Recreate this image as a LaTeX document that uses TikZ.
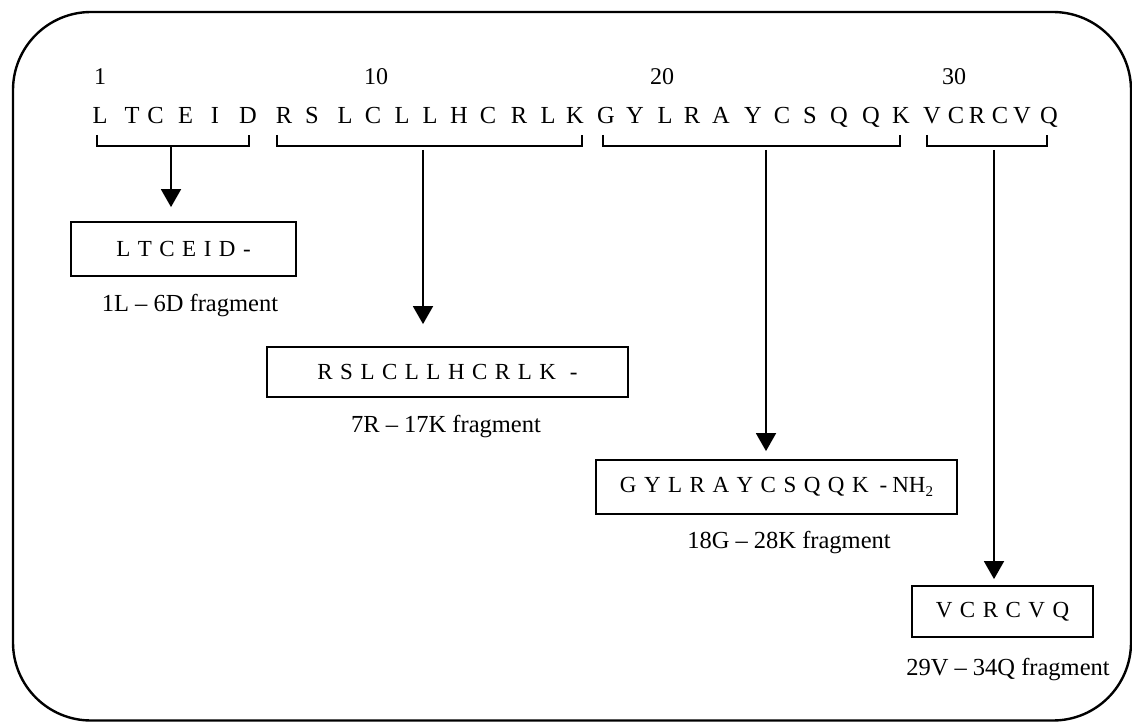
\documentclass[tikz,border=0pt]{standalone}
\usepackage{fontspec}
\setmainfont{Liberation Serif}
\usetikzlibrary{arrows.meta}
\newcommand\lsp{\hspace{7.5pt}}
\begin{document}
\begin{tikzpicture}[x=1pt,y=-1pt,
  seq/.style={font=\fontsize{24.5}{28}\selectfont, anchor=base, inner sep=0pt},
  num/.style={font=\fontsize{24}{28}\selectfont, anchor=base, inner sep=0pt},
  frag/.style={draw, line width=1.8pt, inner sep=0pt, font=\fontsize{23}{26}\selectfont},
  lab/.style={font=\fontsize{24.5}{28}\selectfont, anchor=base, inner sep=0pt},
  brk/.style={line width=1.8pt},
  arr/.style={line width=1.8pt, -{Triangle[width=20pt,length=18pt]}},
  frame/.style={line width=2.4pt, rounded corners=78pt}
]
\useasboundingbox (0,0) rectangle (1132,722);
\draw[frame] (13,12) rectangle (1131,720.5);

% position numbers
\node[num] (n1)  at (100,85) {1};
\node[num] (n10) at (376,85) {10};
\node[num] (n20) at (662,85) {20};
\node[num] (n30) at (954,85) {30};

% sequence
\foreach \l/\x [count=\i] in {L/100,T/132,C/155.5,E/185.5,I/215,D/248,R/284,S/312,L/345,C/373,L/402,L/430,H/459,C/488,R/519,L/548,K/575,G/606,Y/635,L/665,R/692,A/721,Y/753,C/782,S/810,Q/839,Q/871,K/901,V/932,C/956,R/977,C/1000,V/1022,Q/1049}
  \node[seq] (s\i) at (\x,124) {\l};

% brackets
\draw[brk] (97,135) -- (97,146) -- (249,146) -- (249,135);
\draw[brk] (277,135) -- (277,146) -- (582,146) -- (582,135);
\draw[brk] (603,135) -- (603,146) -- (900,146) -- (900,135);
\draw[brk] (927,135) -- (927,146) -- (1047,146) -- (1047,135);

% fragment boxes
\node[frag, minimum width=225pt, minimum height=54pt] (bx1) at (183.5,249)
  {L\lsp T\lsp C\lsp E\lsp I\lsp D\lsp -};
\node[frag, minimum width=361pt, minimum height=50pt] (bx2) at (447.5,372)
  {R\lsp S\lsp L\lsp C\lsp L\lsp L\lsp H\lsp C\lsp R\lsp L\lsp K\hspace{14pt}-};
\node[frag, minimum width=361pt, minimum height=54pt] (bx3) at (776.5,487)
  {G\lsp Y\lsp L\lsp R\lsp A\lsp Y\lsp C\lsp S\lsp Q\lsp Q\lsp K\hspace{11pt}-\hspace{5pt}NH\raisebox{-4pt}{\fontsize{15}{15}\selectfont 2}};
\node[frag, minimum width=181pt, minimum height=51pt] (bx4) at (1002.5,611.5)
  {V\lsp C\lsp R\lsp C\lsp V\lsp Q};

% labels
\node[lab] (l1) at (190,311) {1L – 6D fragment};
\node[lab] (l2) at (446,432) {7R – 17K fragment};
\node[lab] (l3) at (789,548) {18G – 28K fragment};
\node[lab] (l4) at (1008,675) {29V – 34Q fragment};

% arrows
\coordinate (a1) at (171,147);
\coordinate (a2) at (423,150);
\coordinate (a3) at (766,150);
\coordinate (a4) at (994,150);
\draw[arr, shorten >=14pt] (a1) -- (a1 |- bx1.north);
\draw[arr, shorten >=22pt] (a2) -- (a2 |- bx2.north);
\draw[arr, shorten >=8pt] (a3) -- (a3 |- bx3.north);
\draw[arr, shorten >=6pt] (a4) -- (a4 |- bx4.north);
\end{tikzpicture}
\end{document}
